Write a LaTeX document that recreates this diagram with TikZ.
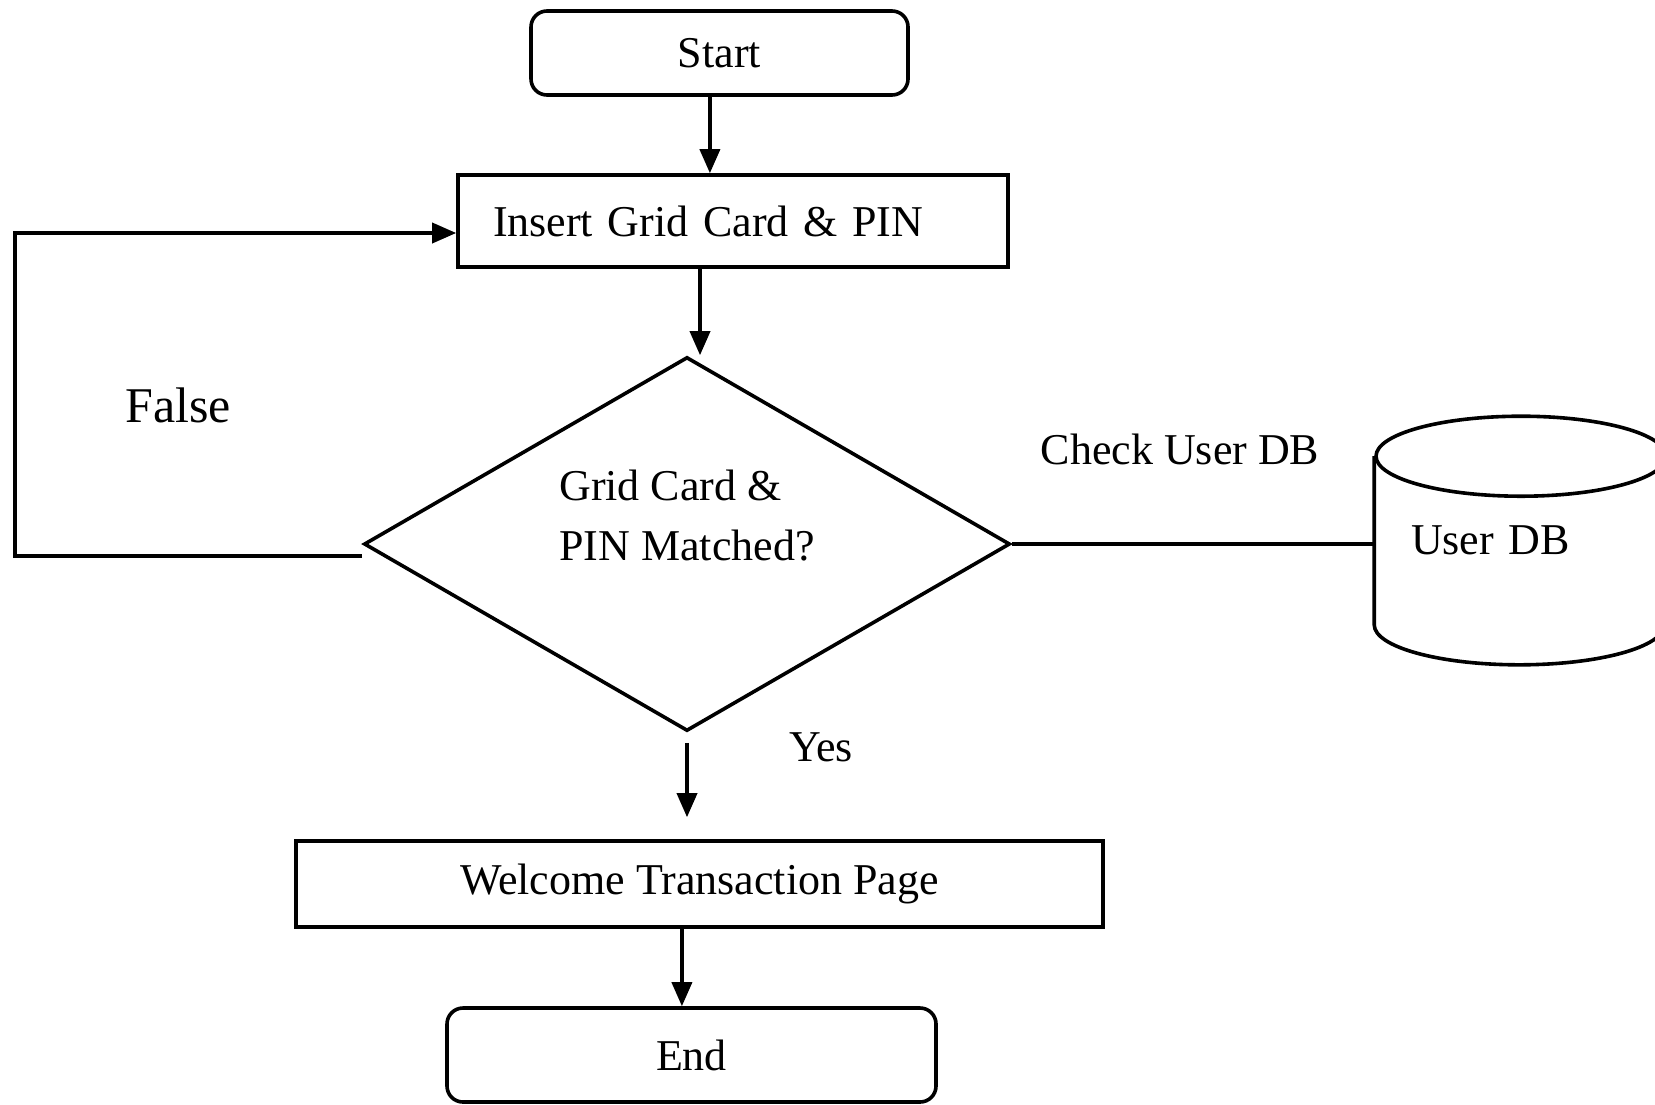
\documentclass[tikz,border=0pt]{standalone}
\usepackage{fontspec}
\setmainfont{Liberation Serif}
\usetikzlibrary{shapes.geometric,arrows.meta}

\begin{document}
\begin{tikzpicture}[x=0.25pt, y=-0.25pt, line width=0.9pt,
  font=\fontsize{11}{13}\selectfont,
  arr/.style={-{Triangle[width=5pt,length=6pt]}},
  term/.style={draw, rounded corners=4pt, inner sep=0pt},
  proc/.style={draw, inner sep=0pt},
  decision/.style={draw, diamond, inner sep=0pt, minimum width=161.5pt, minimum height=93.5pt}]
  \useasboundingbox (0,0) rectangle (1655,1104);

  % flow boxes
  \node[term, minimum width=94.25pt, minimum height=21pt] (start) at (719.5,53) {Start};
  \node[proc, text width=120pt, inner xsep=8.75pt, minimum height=23pt, align=left] (ins) at (733,221) {Insert Grid Card \& PIN};
  \node[decision, label={[align=left, font=\fontsize{11}{15}\selectfont, yshift=7pt]center:Grid Card \&\\PIN Matched?}] (dec) at (687,544) {};
  \node[proc, minimum width=201.75pt, minimum height=21.5pt] (wel) at (699.5,884) {Welcome Transaction Page};
  \node[term, minimum width=122.25pt, minimum height=23.5pt] (end) at (691.5,1055) {End};

  % database
  \node[text width=55pt, inner xsep=8.75pt, minimum height=61.25pt, align=left] (db) at (1521,540.5) {User DB};
  \draw ([yshift=-10pt]db.north west) -- ([yshift=10pt]db.south west)
    arc[start angle=180, end angle=360, x radius=36.25pt, y radius=10pt]
    -- ([yshift=-10pt]db.north east);
  \draw ([yshift=-10pt]db.north) ellipse[x radius=36.25pt, y radius=10pt];

  % labels
  \node[font=\fontsize{12.5}{14}\selectfont] (false) at (178,405) {False};
  \node (chk) at (1180,449) {Check User DB};
  \node (yes) at (821,747) {Yes};

  % connectors
  \draw[arr] ([xshift=-2.4pt]start.south) -- ([xshift=-2.4pt]start.south |- ins.north);
  \draw[arr] ([xshift=3.25pt]ins.south -| dec.north) -- ([xshift=3.25pt]dec.north);
  \draw[arr, shorten <=2.5pt, shorten >=5.5pt] (dec.south) -- (dec.south |- wel.north);
  \draw[arr] ([xshift=-4.4pt]wel.south) -- ([xshift=-4.4pt]wel.south |- end.north);
  \draw[arr] ([yshift=-3pt]dec.west) -- ++(-86.75pt,0) |- ([yshift=-3pt]ins.west);
  \draw (dec.east) -- (dec.east -| db.west);
\end{tikzpicture}
\end{document}
